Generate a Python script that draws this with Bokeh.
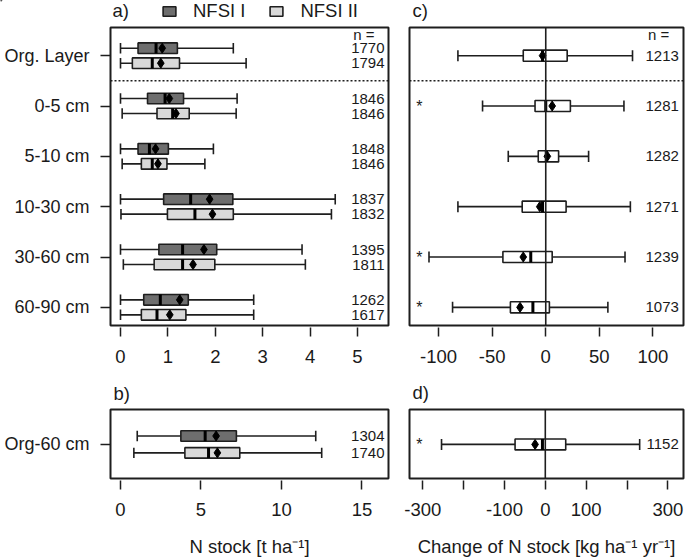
from bokeh.plotting import figure
from bokeh.models import ColumnDataSource, FixedTicker, Span, Legend, LegendItem, Range1d
from bokeh.layouts import row, column
from bokeh.core.properties import value
from bokeh.embed import file_html
from bokeh.resources import INLINE

# ---------------- data ----------------
layers = ["Org. Layer", "0-5 cm", "5-10 cm", "10-30 cm", "30-60 cm", "60-90 cm"]

# N stock [t/ha], NFSI I
s1_lo = [0.0, 0.0, 0.0, 0.0, 0.0, 0.0]
s1_q1 = [0.37, 0.57, 0.37, 0.91, 0.81, 0.49]
s1_med = [0.75, 0.94, 0.61, 1.48, 1.31, 0.84]
s1_mean = [0.88, 1.03, 0.74, 1.88, 1.76, 1.25]
s1_q3 = [1.20, 1.33, 1.01, 2.37, 2.03, 1.43]
s1_hi = [2.38, 2.46, 1.96, 4.53, 3.83, 2.81]
s1_n = [1770, 1846, 1848, 1837, 1395, 1262]

# N stock [t/ha], NFSI II
s2_lo = [0.0, 0.035, 0.035, 0.01, 0.06, 0.0]
s2_q1 = [0.25, 0.77, 0.44, 0.99, 0.71, 0.44]
s2_med = [0.67, 1.10, 0.67, 1.57, 1.31, 0.77]
s2_mean = [0.85, 1.17, 0.79, 1.94, 1.53, 1.04]
s2_q3 = [1.245, 1.45, 0.98, 2.38, 1.99, 1.38]
s2_hi = [2.65, 2.44, 1.78, 4.45, 3.90, 2.81]
s2_n = [1794, 1846, 1846, 1832, 1811, 1617]

# change of N stock [kg/ha/yr]
c_lo = [-82, -59, -35, -82, -109, -87]
c_q1 = [-21, -10, -7, -22, -40, -33]
c_med = [-3, 0, 0.5, -3, -14, -12]
c_mean = [-3, 6, 1.5, -5.6, -21, -24]
c_q3 = [20, 23, 12, 19, 6, 3.4]
c_hi = [81, 73, 40, 79, 74, 58]
c_n = [1213, 1281, 1282, 1271, 1239, 1073]
c_sig = ["", "*", "", "", "*", "*"]

# Org-60 cm totals
tot_label = ["Org-60 cm"]
t1_lo, t1_q1, t1_med, t1_mean, t1_q3, t1_hi, t1_n = [1.04], [3.75], [5.26], [5.94], [7.2], [12.13], [1304]
t2_lo, t2_q1, t2_med, t2_mean, t2_q3, t2_hi, t2_n = [0.83], [4.0], [5.47], [6.02], [7.41], [12.5], [1740]
tc_lo, tc_q1, tc_med, tc_mean, tc_q3, tc_hi, tc_n = [-254], [-74], [-7], [-25], [50], [231], [1152]
tc_sig = ["*"]

series_names = ["NFSI I", "NFSI II"]
panel_names = ["a)", "c)", "b)", "d)"]
stock_ticks = [0, 1, 2, 3, 4, 5]
total_ticks = [0, 5, 10, 15]
change_ticks = [-100, -50, 0, 50, 100]
change_tick_labels = ["-100", "-50", "0", "50", "100"]
total_change_ticks = [-300, -200, -100, 0, 100, 200, 300]
total_change_tick_labels = ["-300", "", "-100", "0", "100", "", "300"]

# ---------------- style ----------------
FONT = "Liberation Sans"
LC = "#1e1e1e"
TC = "#1a1a1a"
DARK = "#6e6e6e"
LIGHT = "#d9d9d9"
BOX_H = 0.21
OFF = 0.149
FS = "18.5px"
NFS = "15px"

pos = [6, 5, 4, 3, 2, 1]


def make_fig(width, height, xr, yr, bl, br, bt, bb, yaxis):
    p = figure(width=width, height=height, x_range=Range1d(*xr), y_range=Range1d(*yr),
               output_backend="svg", toolbar_location=None, tools="",
               min_border_left=bl, min_border_right=br, min_border_top=bt, min_border_bottom=bb,
               y_axis_location="left" if yaxis else None)
    p.grid.visible = False
    p.outline_line_color = LC
    p.outline_line_width = 2
    p.outline_line_alpha = 1
    return p


def header_fig(width, height):
    p = figure(width=width, height=height, x_range=Range1d(0, width), y_range=Range1d(height, 0),
               output_backend="svg", toolbar_location=None, tools="",
               min_border=0, x_axis_location=None, y_axis_location=None)
    p.grid.visible = False
    p.outline_line_color = None
    return p


def style_axis(ax, ticks, tin, tout, standoff, overrides=None, size=FS):
    ax.ticker = FixedTicker(ticks=ticks)
    ax.axis_line_color = None
    ax.major_tick_in = tin
    ax.major_tick_out = tout
    ax.major_tick_line_color = LC
    ax.major_tick_line_width = 1.5
    ax.minor_tick_line_color = None
    ax.major_label_text_font = FONT
    ax.major_label_text_font_size = size
    ax.major_label_text_color = TC
    ax.major_label_standoff = standoff
    if overrides:
        ax.major_label_overrides = overrides
    ax.axis_label_text_font = FONT
    ax.axis_label_text_font_size = FS
    ax.axis_label_text_font_style = "normal"
    ax.axis_label_text_color = TC


def draw_boxes(p, ys, lo, q1, med, q3, hi, mean, fill, h=BOX_H):
    src = ColumnDataSource(dict(
        y=ys, lo=lo, q1=q1, med=med, q3=q3, hi=hi, mean=mean,
        ylo=[y - h / 2 for y in ys], yhi=[y + h / 2 for y in ys],
    ))
    p.segment(x0="lo", y0="y", x1="q1", y1="y", source=src, line_color=LC, line_width=1.6)
    p.segment(x0="q3", y0="y", x1="hi", y1="y", source=src, line_color=LC, line_width=1.6)
    p.segment(x0="lo", y0="ylo", x1="lo", y1="yhi", source=src, line_color=LC, line_width=1.6)
    p.segment(x0="hi", y0="ylo", x1="hi", y1="yhi", source=src, line_color=LC, line_width=1.6)
    r = p.hbar(y="y", left="q1", right="q3", height=h, source=src,
               fill_color=fill, line_color=LC, line_width=1.6)
    p.segment(x0="med", y0="ylo", x1="med", y1="yhi", source=src, line_color="black", line_width=3)
    p.scatter(x="mean", y="y", source=src, marker="diamond", size=10,
              fill_color="black", line_color="black")
    return r


def ntext(p, xs, ys, texts, align="right", size=NFS):
    p.text(x=xs, y=ys, text=texts, text_align=align, text_baseline="middle",
           text_font=value(FONT), text_font_size=size, text_color=TC)


# ranges (layout)
A_X = (-0.211, 5.654)
C_X = (-127.2, 128.6)
B_X = (-0.621, 16.65)
D_X = (-332.4, 338.3)
TOP_Y = (0.639, 6.56)
BOT_Y = (0.314, 1.703)
W_L, W_R = 395, 290

# ---------------- header with legend, a) and c) ----------------
HH = 24
ph = header_fig(W_L + W_R, HH)
ntext(ph, [112, 412], [10, 10], panel_names[:2], align="left", size=FS)
# legend keys: one off-canvas dummy bar per series so the legend can draw its swatch
k1 = ph.hbar(y=[-10 * HH], left=[0], right=[1], height=1, fill_color=DARK, line_color=LC, line_width=1.6)
k2 = ph.hbar(y=[-10 * HH], left=[0], right=[1], height=1, fill_color=LIGHT, line_color=LC, line_width=1.6)
leg = Legend(items=[LegendItem(label=series_names[0], renderers=[k1]),
                    LegendItem(label=series_names[1], renderers=[k2])],
             location=(161, 2), orientation="horizontal", glyph_width=16, glyph_height=12,
             label_standoff=16, spacing=23, padding=0, margin=0, border_line_color=None,
             background_fill_alpha=0, label_text_font=FONT, label_text_font_size=FS,
             label_text_color=TC, label_text_baseline="alphabetic")
ph.add_layout(leg)

# ---------------- panel a ----------------
pa = make_fig(W_L, 348, A_X, TOP_Y, 110, 7, 3, 47, True)
y1 = [g + OFF for g in pos]
y2 = [g - OFF for g in pos]
draw_boxes(pa, y1, s1_lo, s1_q1, s1_med, s1_q3, s1_hi, s1_mean, DARK)
draw_boxes(pa, y2, s2_lo, s2_q1, s2_med, s2_q3, s2_hi, s2_mean, LIGHT)
pa.add_layout(Span(location=5.5, dimension="width", line_color=LC, line_width=1.5, line_dash="2 2"))
ntext(pa, [5.57] * 6, y1, [str(n) for n in s1_n])
ntext(pa, [5.57] * 6, y2, [str(n) for n in s2_n])
ntext(pa, [4.91], [6.43], ["n ="], align="left")
style_axis(pa.xaxis[0], stock_ticks, -2, 11, 13)
style_axis(pa.yaxis[0], pos, 0, 10, 11, {g: l for g, l in zip(pos, layers)}, size="18px")

# ---------------- panel c ----------------
pc = make_fig(W_R, 348, C_X, TOP_Y, 14, 2, 3, 47, False)
pc.add_layout(Span(location=0, dimension="height", line_color=LC, line_width=1.6))
draw_boxes(pc, pos, c_lo, c_q1, c_med, c_q3, c_hi, c_mean, "white", h=0.22)
pc.add_layout(Span(location=5.5, dimension="width", line_color=LC, line_width=1.5, line_dash="2 2"))
ntext(pc, [124.3] * 6, pos, [str(n) for n in c_n])
ntext(pc, [95.4], [6.43], ["n ="], align="left")
ntext(pc, [-117.9] * 6, pos, c_sig, align="center", size="16px")
style_axis(pc.xaxis[0], change_ticks, -2, 11, 13,
           {t: l for t, l in zip(change_ticks, change_tick_labels)})

# ---------------- middle header with b) and d) ----------------
pm = header_fig(W_L + W_R, 34)
ntext(pm, [113, 412], [21, 20], panel_names[2:], align="left", size=FS)

# ---------------- panel b ----------------
pb = make_fig(W_L, 153, B_X, BOT_Y, 110, 7, 3, 80, True)
yb1 = [1 + 0.17]
yb2 = [1 - 0.17]
draw_boxes(pb, yb1, t1_lo, t1_q1, t1_med, t1_q3, t1_hi, t1_mean, DARK)
draw_boxes(pb, yb2, t2_lo, t2_q1, t2_med, t2_q3, t2_hi, t2_mean, LIGHT)
ntext(pb, [16.4], yb1, [str(n) for n in t1_n])
ntext(pb, [16.4], yb2, [str(n) for n in t2_n])
style_axis(pb.xaxis[0], total_ticks, -2, 11, 13)
style_axis(pb.yaxis[0], [1], 0, 10, 11, {1: tot_label[0]}, size="18px")
pb.xaxis[0].axis_label = "N stock [t ha\u207b\u00b9]"
pb.xaxis[0].axis_label_standoff = 17

# ---------------- panel d ----------------
pd_ = make_fig(W_R, 153, D_X, BOT_Y, 14, 2, 3, 80, False)
pd_.add_layout(Span(location=0, dimension="height", line_color=LC, line_width=1.6))
draw_boxes(pd_, [1], tc_lo, tc_q1, tc_med, tc_q3, tc_hi, tc_mean, "white", h=0.22)
ntext(pd_, [326.8], [1], [str(n) for n in tc_n])
ntext(pd_, [-308.0], [1], tc_sig, align="center", size="16px")
style_axis(pd_.xaxis[0], total_change_ticks, -2, 11, 13,
           {t: l for t, l in zip(total_change_ticks, total_change_tick_labels)})
pd_.xaxis[0].axis_label = "Change of N stock [kg ha\u207b\u00b9 yr\u207b\u00b9]"
pd_.xaxis[0].axis_label_standoff = 17

layout = column(ph, row(pa, pc), pm, row(pb, pd_))

open("out.html", "w").write(file_html(layout, INLINE))
